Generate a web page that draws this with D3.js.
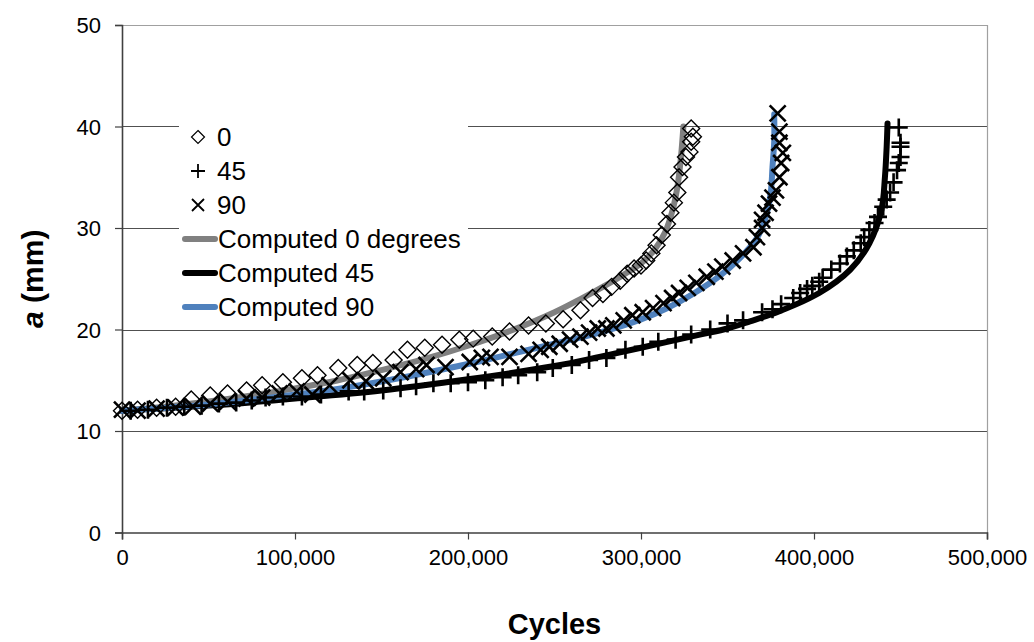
<!DOCTYPE html>
<html>
<head>
<meta charset="utf-8">
<script src="https://cdn.jsdelivr.net/npm/d3@7"></script>
<style>
  html, body { margin: 0; padding: 0; background: #fff; }
  svg { display: block; font-family: "Liberation Sans", Arial, sans-serif; }
</style>
</head>
<body>
<svg id="chart" width="1034" height="642"></svg>
<script>
// Crack length a (mm) against load cycles, test data and computed curves.
// Each pair: [cycles in thousands, a in mm].
const test0 = [
  [0,12.0],[9,12.1],[20,12.3],[31,12.4],[40,13.1],[51,13.5],[61,13.7],[72,14.0],
  [81,14.5],[93,14.8],[104,15.2],[113,15.5],[125,16.2],[136,16.5],[145,16.7],[157,17.0],
  [165,18.0],[175,18.2],[185,18.5],[195,19.0],[203,19.1],[214,19.3],[224,19.8],[235,20.4],
  [245,20.6],[255,21.0],[265,21.9],[272,23.1],[278,23.5],[283,24.2],[288,24.8],[292,25.5],
  [296,26.0],[300,26.3],[303,26.8],[306,27.5],[309,28.3],[312,29.3],[315,30.4],[317,31.5],
  [319,32.5],[321,33.5],[322,35.0],[324,36.0],[326,37.0],[328,37.5],[329,38.5],[330,39.0],
  [329,39.8]
];
const test45 = [
  [5,12.0],[15,12.1],[26,12.3],[36,12.4],[46,12.5],[56,12.7],[66,12.8],[75,13.0],
  [83,13.3],[93,13.4],[104,13.4],[115,13.6],[131,13.9],[140,13.9],[151,14.0],[161,14.2],
  [170,14.4],[180,14.7],[190,14.7],[200,14.8],[210,15.0],[220,15.3],[229,15.5],[240,15.8],
  [249,16.2],[260,16.5],[270,17.0],[280,17.2],[291,18.0],[301,18.3],[310,18.8],[320,19.0],
  [329,19.5],[340,20.0],[350,20.6],[359,20.9],[370,21.7],[376,22.0],[381,22.5],[388,23.1],
  [392,23.6],[396,24.0],[399,24.3],[403,24.7],[405,25.1],[410,25.9],[415,26.5],[419,27.2],
  [423,27.8],[427,28.5],[429,29.1],[432,29.8],[435,30.5],[437,31.1],[440,32.1],[442,32.8],
  [444,33.5],[446,34.5],[448,35.7],[449,36.4],[450,37.0],[450,38.0],[450,38.4],[449,39.9]
];
const test90 = [
  [0,12.1],[9,12.0],[20,12.2],[31,12.3],[41,12.4],[51,12.7],[61,12.9],[72,13.2],
  [81,13.3],[91,13.7],[101,13.9],[110,13.6],[120,14.5],[132,15.0],[141,14.9],[151,15.2],
  [161,15.8],[170,16.1],[176,16.5],[187,16.3],[201,16.8],[208,17.2],[213,17.3],[224,17.3],
  [235,17.6],[242,18.0],[247,18.3],[253,18.6],[259,19.0],[265,19.3],[270,19.7],[275,20.1],
  [280,20.1],[284,20.4],[290,20.9],[295,21.4],[301,21.7],[307,22.1],[313,22.6],[318,23.1],
  [322,23.6],[327,24.1],[332,24.6],[338,25.2],[343,25.7],[347,26.2],[353,26.8],[359,27.5],
  [365,28.1],[367,29.1],[370,30.0],[370,30.8],[372,31.5],[374,32.4],[376,33.0],[378,33.7],
  [380,35.0],[381,36.4],[382,37.4],[380,38.4],[380,39.5],[379,41.3]
];
const computed0 = [
  [0,12.0],[25,12.4],[50,12.9],[75,13.5],[100,14.2],[125,15.0],[150,16.0],[175,17.1],
  [200,18.4],[225,19.9],[250,21.7],[265,23.0],[280,24.4],[290,25.4],[300,26.5],[308,27.9],
  [314,29.6],[318,31.6],[321,34.0],[323,36.8],[324.5,40.0]
];
const computed45 = [
  [0,12.0],[50,12.5],[100,13.2],[150,14.0],[200,15.1],[250,16.4],[276,17.3],[300,18.2],
  [334,19.5],[350,20.1],[363,20.8],[380,21.8],[403,23.6],[421,25.9],[432,28.5],[439,31.8],
  [441,35.0],[442,38.0],[442.5,40.3]
];
const computed90 = [
  [0,12.0],[50,12.6],[100,13.6],[130,14.3],[166,15.4],[200,16.6],[230,17.8],[250,18.6],
  [276,19.7],[300,21.0],[315,22.1],[330,23.5],[345,25.2],[357,27.0],[367,29.0],[372,31.0],
  [375,33.5],[376,36.0],[377,38.5],[377,41.2]
];
const xTicks = [0, 100000, 200000, 300000, 400000, 500000];
const yTicks = [0, 10, 20, 30, 40, 50];
const legendLabels = ["0", "45", "90", "Computed 0 degrees", "Computed 45", "Computed 90"];

const svg = d3.select("#chart");
const plot = { left: 122, right: 987, top: 25, bottom: 532.5 };

const x = d3.scaleLinear().domain([0, 500000]).range([plot.left, plot.right]);
const y = d3.scaleLinear().domain([0, 50]).range([plot.bottom, plot.top]);

// Horizontal gridlines
svg.append("g").selectAll("line").data(yTicks.filter(d => d > 0 && d < 50)).join("line")
  .attr("x1", plot.left).attr("x2", plot.right)
  .attr("y1", d => Math.round(y(d)) + 0.5).attr("y2", d => Math.round(y(d)) + 0.5)
  .attr("stroke", "#505050").attr("stroke-width", 1);

// Top and right frame of the plot area
svg.append("path")
  .attr("d", `M${plot.left},${Math.round(plot.top) + 0.5}H${plot.right + 0.5}V${plot.bottom}`)
  .attr("fill", "none").attr("stroke", "#a0a0a0").attr("stroke-width", 1.2);

// Axes
const fmt = d3.format(",");
const xAxis = svg.append("g").attr("transform", `translate(0,${plot.bottom})`)
  .call(d3.axisBottom(x).tickValues(xTicks).tickFormat(d => fmt(d)).tickSizeOuter(0).tickSize(7).tickPadding(10));
const yAxis = svg.append("g").attr("transform", `translate(${plot.left},0)`)
  .call(d3.axisLeft(y).tickValues(yTicks).tickSizeOuter(0).tickSize(7).tickPadding(14));
[xAxis, yAxis].forEach(g => {
  g.select(".domain").attr("stroke", "#404040").attr("stroke-width", 1.6);
  g.selectAll(".tick line").attr("stroke", "#404040").attr("stroke-width", 1.2);
  g.selectAll(".tick text").attr("fill", "#000").style("font-size", "22px")
    .style("font-family", "'Liberation Sans', Arial, sans-serif");
});
yAxis.selectAll(".tick text").attr("dy", "0.36em");

// Axis titles
svg.append("text").attr("x", (plot.left + plot.right) / 2).attr("y", 634)
  .attr("text-anchor", "middle").style("font-size", "29px").style("font-weight", "bold")
  .text("Cycles");
const yTitle = svg.append("text")
  .attr("transform", `translate(43,${(plot.top + plot.bottom) / 2}) rotate(-90)`)
  .attr("text-anchor", "middle").style("font-size", "30px").style("font-weight", "bold");
yTitle.append("tspan").style("font-style", "italic").text("a");
yTitle.append("tspan").text(" (mm)");

// Computed curves
const toPx = d => [x(d[0] * 1000), y(d[1])];
const line = d3.line().x(d => x(d[0] * 1000)).y(d => y(d[1])).curve(d3.curveCatmullRom.alpha(0.5));
const curves = [
  { data: computed0, color: "#808080" },
  { data: computed45, color: "#000000" },
  { data: computed90, color: "#4F81BD" }
];
svg.append("g").selectAll("path").data(curves).join("path")
  .attr("d", c => line(c.data)).attr("fill", "none")
  .attr("stroke", c => c.color).attr("stroke-width", 6)
  .attr("stroke-linejoin", "round").attr("stroke-linecap", "round");

// Marker shapes
function diamondPath(s) { return `M0,${-s}L${s},0L0,${s}L${-s},0Z`; }
function plusPath(s) { return `M${-s},0H${s}M0,${-s}V${s}`; }
function crossPath(s) { return `M${-s},${-s}L${s},${s}M${-s},${s}L${s},${-s}`; }

const markerSets = [
  { data: test0, path: diamondPath(8.5), width: 1.4 },
  { data: test45, path: plusPath(9), width: 2.6 },
  { data: test90, path: crossPath(8), width: 2.6 }
];
markerSets.forEach(m => {
  svg.append("g").selectAll("path").data(m.data).join("path")
    .attr("transform", d => `translate(${toPx(d)[0]},${toPx(d)[1]})`)
    .attr("d", m.path).attr("fill", "none").attr("stroke", "#000")
    .attr("stroke-width", m.width);
});

// Legend
const legend = svg.append("g");
legend.append("rect").attr("x", 179).attr("y", 114).attr("width", 289).attr("height", 209).attr("fill", "#fff");
const rowY = i => 137 + i * 34;
const legendMarks = [
  { kind: "marker", path: diamondPath(6.5), width: 1.2 },
  { kind: "marker", path: plusPath(7), width: 1.8 },
  { kind: "marker", path: crossPath(6), width: 1.8 },
  { kind: "line", color: "#808080" },
  { kind: "line", color: "#000000" },
  { kind: "line", color: "#4F81BD" }
];
legendMarks.forEach((m, i) => {
  if (m.kind === "marker") {
    legend.append("path").attr("transform", `translate(198,${rowY(i)})`)
      .attr("d", m.path).attr("fill", "none").attr("stroke", "#000").attr("stroke-width", m.width);
  } else {
    legend.append("line").attr("x1", 185).attr("x2", 215).attr("y1", rowY(i)).attr("y2", rowY(i))
      .attr("stroke", m.color).attr("stroke-width", 6).attr("stroke-linecap", "round");
  }
  legend.append("text").attr("x", m.kind === "marker" ? 217 : 218).attr("y", rowY(i)).attr("dy", "0.36em")
    .style("font-size", "26px").text(legendLabels[i]);
});
</script>
</body>
</html>
